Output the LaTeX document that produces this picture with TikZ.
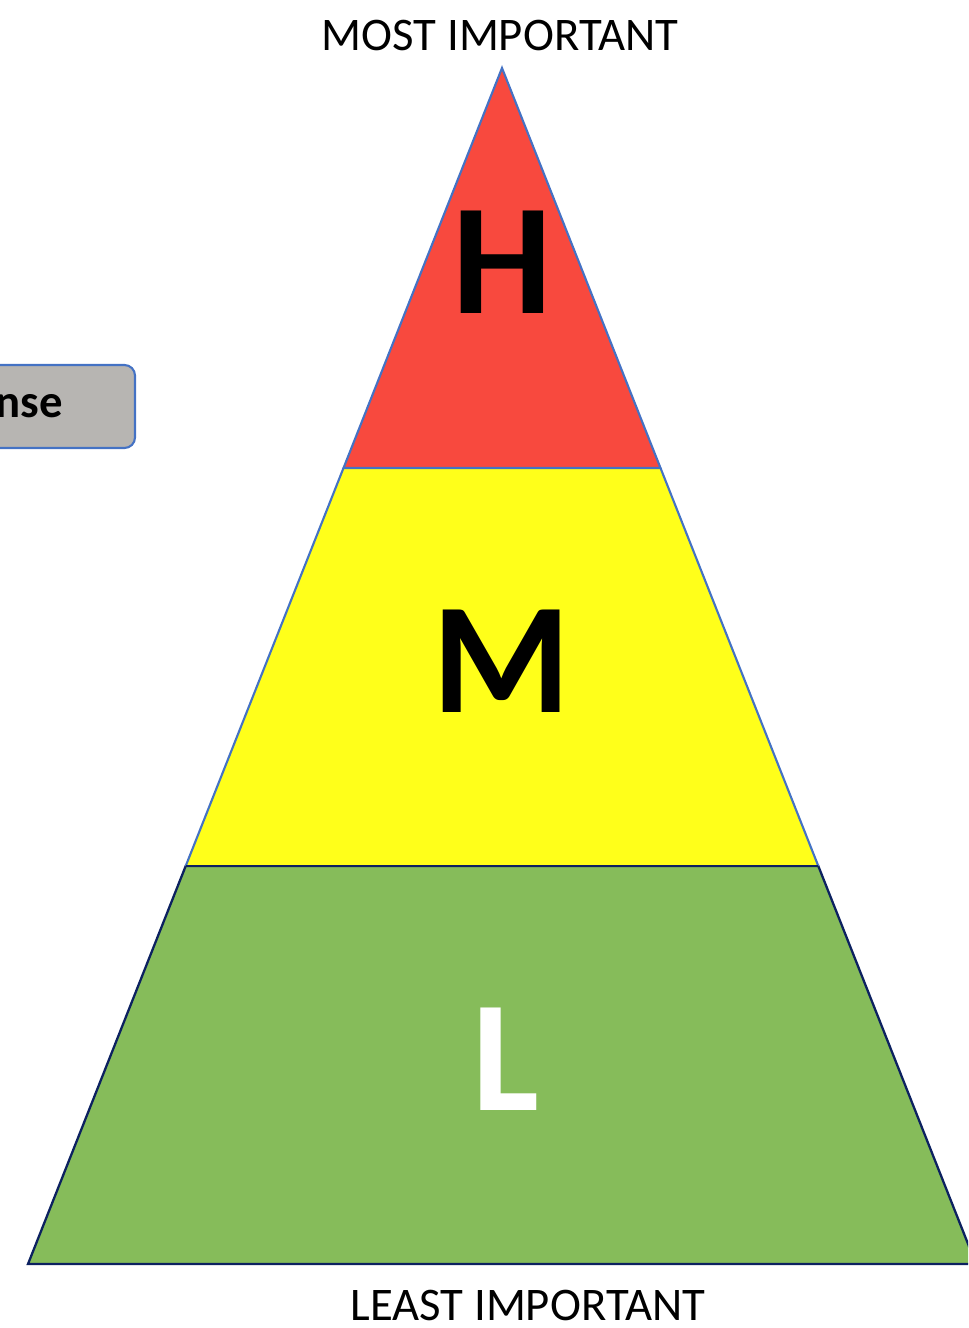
\documentclass[tikz,border=0pt]{standalone}
\usepackage{fontspec}
\setmainfont{Carlito}
\definecolor{hred}{HTML}{F8493E}
\definecolor{myellow}{HTML}{FFFF1A}
\definecolor{lgreen}{HTML}{86BC5A}
\definecolor{edgeblue}{HTML}{4472C4}
\definecolor{navy}{HTML}{0C2160}
\definecolor{boxgrey}{HTML}{B7B5B2}
\begin{document}
\begin{tikzpicture}[x=0.02cm,y=-0.02cm,
  levelletter/.style={font=\fontsize{90pt}{90pt}\selectfont\bfseries, inner sep=0pt, anchor=base},
  caption/.style={font=\fontsize{26.6pt}{30pt}\selectfont, inner sep=0pt, anchor=base},
  greybox/.style={draw=edgeblue, fill=boxgrey, line width=1.2pt, rounded corners=6pt, minimum width=330*0.02cm, minimum height=83*0.02cm, inner sep=0pt},
  boxtext/.style={font=\fontsize{26.6pt}{30pt}\selectfont\bfseries, inner sep=0pt, anchor=base east}]
\useasboundingbox (0,0) rectangle (968,1328);
\clip (0,0) rectangle (968,1328);
% pyramid corners
\coordinate (apex) at (502,68);
\coordinate (ml) at (343.5,468);
\coordinate (mr) at (660.5,468);
\coordinate (ll) at (185.7,866);
\coordinate (lr) at (818.3,866);
\coordinate (bl) at (28,1264);
\coordinate (br) at (976,1264);
% green
\filldraw[fill=lgreen, draw=navy, line width=1.3pt, line join=miter] (ll) -- (lr) -- (br) -- (bl) -- cycle;
% yellow
\fill[myellow] (ml) -- (mr) -- (lr) -- (ll) -- cycle;
\draw[edgeblue, line width=1.2pt] (ml) -- (ll);
\draw[edgeblue, line width=1.2pt] (mr) -- (lr);
\draw[navy, line width=1.3pt] (ll) -- (lr);
% red
\filldraw[fill=hred, draw=edgeblue, line width=1.2pt, line join=miter] (apex) -- (mr) -- (ml) -- cycle;
% letters
\node[levelletter, text=black] (H) at (502,313) {H};
\node[levelletter, text=black] (M) at (502,712) {M};
\node[levelletter, text=white] (L) at (506,1110) {L};
% captions
\node[caption] (most) at (500,51) {MOST IMPORTANT};
\node[caption] (least) at (528,1320) {LEAST IMPORTANT};
% partial box
\node[greybox] (box) at (-30,406.5) {};
\node[boxtext] (resp) at (63,417) {Response};
\end{tikzpicture}
\end{document}
